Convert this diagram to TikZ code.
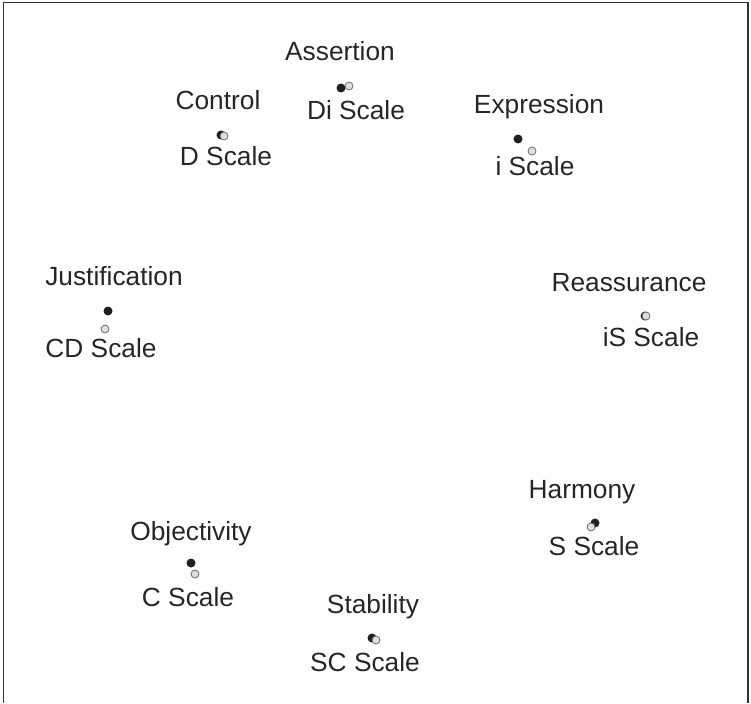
\documentclass[tikz,border=0pt]{standalone}
\usepackage{fontspec}
\setmainfont{Liberation Sans}
\usetikzlibrary{positioning}
\definecolor{dotgrey}{rgb}{0.87,0.87,0.87}
\definecolor{rimgrey}{rgb}{0.42,0.42,0.42}
\definecolor{framegrey}{rgb}{0.2,0.2,0.2}

\begin{document}
\begin{tikzpicture}[x=1pt, y=-1pt]
        \tikzstyle{dark}=[circle,fill=black!88,inner sep=0pt, minimum size=9pt]
        \tikzstyle{light}=[circle,draw=rimgrey,fill=dotgrey,line width=0.8pt,inner sep=0pt, minimum size=8pt]
        \tikzstyle{word}=[anchor=base,inner sep=0pt,text=black!85,font=\fontsize{26.3}{30}\selectfont]

        \useasboundingbox (0,0) rectangle (751,703);

        % Open frame
        \draw[framegrey, line width=1.2pt] (3.5,703) -- (3.5,2.5) -- (748,2.5) -- (748,703);

        % Assertion / Di
        \node[word] (assertion) at (340,61) {Assertion};
        \node[dark] (assertionA) at (341,88) {};
        \node[light] (assertionB) at (349,86) {};
        \node[word] (discale) at (356,120) {Di Scale};

        % Control / D
        \node[word] (control) at (218,110) {Control};
        \node[dark] (controlA) at (221,135) {};
        \node[light] (controlB) at (224,136) {};
        \node[word] (dscale) at (226,166) {D Scale};

        % Expression / i
        \node[word] (expression) at (539,114) {Expression};
        \node[dark] (expressionA) at (518,139) {};
        \node[light] (expressionB) at (532,151) {};
        \node[word] (iscale) at (535,176) {i Scale};

        % Justification / CD
        \node[word] (justification) at (114,285) {Justification};
        \node[dark] (justificationA) at (108,311) {};
        \node[light] (justificationB) at (105,329) {};
        \node[word] (cdscale) at (101,357) {CD Scale};

        % Reassurance / iS
        \node[word] (reassurance) at (629,291) {Reassurance};
        \node[dark] (reassuranceA) at (645,316) {};
        \node[light] (reassuranceB) at (646,316) {};
        \node[word] (isscale) at (651,346) {iS Scale};

        % Harmony / S
        \node[word] (harmony) at (582,498) {Harmony};
        \node[dark] (harmonyA) at (595,523) {};
        \node[light] (harmonyB) at (591,527) {};
        \node[word] (sscale) at (594,555) {S Scale};

        % Objectivity / C
        \node[word] (objectivity) at (191,540) {Objectivity};
        \node[dark] (objectivityA) at (191,563) {};
        \node[light] (objectivityB) at (195,574) {};
        \node[word] (cscale) at (188,606) {C Scale};

        % Stability / SC
        \node[word] (stability) at (373,613) {Stability};
        \node[dark] (stabilityA) at (372,638) {};
        \node[light] (stabilityB) at (376,640) {};
        \node[word] (scscale) at (365,671) {SC Scale};
    \end{tikzpicture}
\end{document}
